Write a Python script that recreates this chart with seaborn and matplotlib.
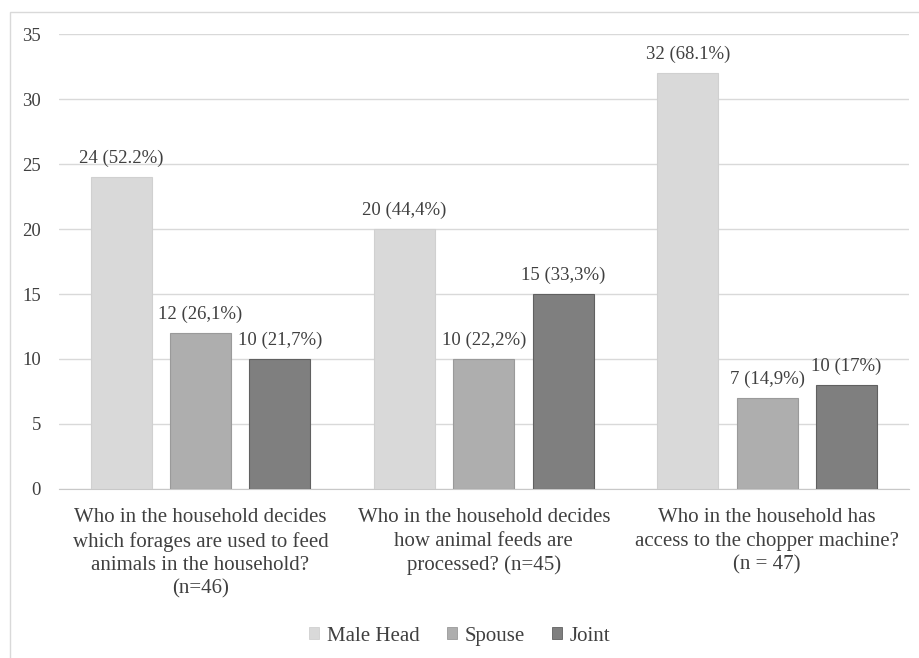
import pandas as pd
import numpy as np
import matplotlib
matplotlib.use("Agg")
import matplotlib.pyplot as plt
from matplotlib.patches import Rectangle
import seaborn as sns

# data
questions = [
    "Who in the household decides\nwhich forages are used to feed\nanimals in the household?\n(n=46)",
    "Who in the household decides\nhow animal feeds are\nprocessed? (n=45)",
    "Who in the household has\naccess to the chopper machine?\n(n = 47)",
]
roles = ["Male Head", "Spouse", "Joint"]
male_head = [24, 20, 32]
spouse = [12, 10, 7]
joint = [10, 15, 8]
male_head_labels = ["24 (52.2%)", "20 (44,4%)", "32 (68.1%)"]
spouse_labels = ["12 (26,1%)", "10 (22,2%)", "7 (14,9%)"]
joint_labels = ["10 (21,7%)", "15 (33,3%)", "10 (17%)"]

colors = ["#d9d9d9", "#aeaeae", "#7f7f7f"]
edges = ["#d0d0d0", "#9a9a9a", "#606060"]
FONT = ["Liberation Serif", "DejaVu Serif"]

df = pd.DataFrame({
    "question": questions * 3,
    "role": np.repeat(roles, 3),
    "count": male_head + spouse + joint,
})
labels = {"Male Head": male_head_labels, "Spouse": spouse_labels, "Joint": joint_labels}

sns.set_style("white")
plt.rcParams["font.family"] = FONT

fig = plt.figure(figsize=(9.19, 6.58), dpi=100)
ax = fig.add_axes([0.064, 0.257, 0.925, 0.691])

sns.barplot(data=df, x="question", y="count", hue="role", order=questions,
            hue_order=roles, palette=colors, width=0.84, gap=0.23,
            ax=ax, legend=False, zorder=3)

for i, cont in enumerate(ax.containers):
    for bar in cont:
        bar.set_edgecolor(edges[i])
        bar.set_linewidth(0.8)
    ax.bar_label(cont, labels=labels[roles[i]], padding=7, fontsize=13.5,
                 color="#404040", family=FONT)

ax.set_ylim(0, 35)
ax.set_xlim(-0.5, 2.5)
ax.set_yticks(range(0, 36, 5))
ax.yaxis.grid(True, color="#d9d9d9", linewidth=1)
ax.set_axisbelow(True)
for s in ["top", "right", "left"]:
    ax.spines[s].set_visible(False)
ax.spines["bottom"].set_color("#c8c8c8")
ax.tick_params(axis="both", length=0, labelcolor="#404040")
ax.tick_params(axis="y", labelsize=13.5, pad=13)
ax.tick_params(axis="x", labelsize=15, pad=14)
for t in ax.get_xticklabels() + ax.get_yticklabels():
    t.set_family(FONT)
for t in ax.get_xticklabels():
    t.set_linespacing(1.3)
ax.set_xlabel("")
ax.set_ylabel("")

handles = [Rectangle((0, 0), 1, 1, facecolor=c, edgecolor=e, linewidth=0.6)
           for c, e in zip(colors, edges)]
fig.legend(handles, roles, loc="center", bbox_to_anchor=(0.5, 0.033), ncol=3,
           frameon=False, prop={"family": FONT, "size": 15},
           handlelength=0.5, handleheight=0.5, handletextpad=0.35,
           columnspacing=1.3, labelcolor="#404040")

# outer light border of the chart area
fig.patches.append(Rectangle((10 / 919, -0.05), 1.2, 0.05 + 1 - 12 / 658,
                             transform=fig.transFigure, fill=False,
                             edgecolor="#d9d9d9", linewidth=1))

fig.savefig("out.png", dpi=100)
